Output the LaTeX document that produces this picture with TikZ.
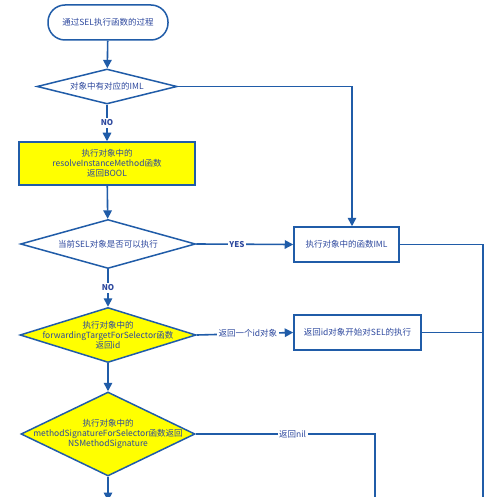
\documentclass[tikz,border=0pt]{standalone}
\usepackage{fontspec}
\setmainfont{Noto Sans CJK SC}
\usepackage{tikz}
\usetikzlibrary{arrows.meta,shapes.geometric}
\definecolor{flowline}{RGB}{32,92,168}
\definecolor{flowtext}{RGB}{45,72,158}
\definecolor{flowfill}{RGB}{255,255,0}

\begin{document}
\begin{tikzpicture}[x=1pt, y=-1pt, every node/.style={font=\fontsize{8.5}{10}\selectfont, text=flowtext, align=center}, conn/.style={draw=flowline, line width=1.6pt}, startbox/.style={draw=flowline, line width=1.5pt, rounded corners=17pt, minimum width=120pt, minimum height=35pt, inner sep=0pt}, procbox/.style={draw=flowline, line width=1.5pt, minimum height=35pt, inner sep=0pt}, yellowbox/.style={procbox, fill=flowfill}, dia/.style={diamond, draw=flowline, line width=1.5pt, inner sep=0pt}, yellowdia/.style={dia, fill=flowfill}, lbl/.style={fill=white, inner sep=1.5pt}, yn/.style={lbl, font=\fontsize{8}{10}\selectfont\bfseries}, >={Triangle[length=8.5pt,width=8.5pt]}]
\clip (0,0) rectangle (500,497);
\fill[white] (0,0) rectangle (500,497);
\node[startbox] (start) at (108,22.5) {通过SEL执行函数的过程};
\node[dia, minimum width=140pt, minimum height=35pt] (hasiml) at (107,86.5) {};
\node at (hasiml) {对象中有对应的IML};
\node[yellowbox, minimum width=176pt, minimum height=43pt] (resolve) at (107,163.5) {执行对象中的\\resolveInstanceMethod函数\\返回BOOL};
\node[dia, minimum width=175pt, minimum height=49pt] (canrun) at (108,244) {};
\node at (canrun) {当前SEL对象是否可以执行};
\node[yellowdia, minimum width=176pt, minimum height=55pt] (fwd) at (108,335) {};
\node at (fwd) {执行对象中的\\forwardingTargetForSelector函数\\返回id};
\node[yellowdia, minimum width=174pt, minimum height=84pt] (sig) at (108,434) {};
\node at (sig) {执行对象中的\\methodSignatureForSelector函数返回\\NSMethodSignature};
\node[procbox, minimum width=105pt] (runiml) at (346.5,244.5) {执行对象中的函数IML};
\node[procbox, minimum width=127pt] (runid) at (357.5,332.5) {返回id对象开始对SEL的执行};
\coordinate (sigout) at (108,501);
\coordinate (nilend) at (375,510);
\coordinate (rightend) at (483,510);
\coordinate (idjoin) at (483,332.5);
% main column
\foreach \a/\b in {start/hasiml,resolve/canrun,fwd/sig} \draw[conn,->] (\a)--(\b);
\draw[conn,->] (hasiml)--(resolve) node[yn,pos=0.5] {NO};
\draw[conn,->] (canrun)--(fwd) node[yn,pos=0.5] {NO};
\draw[conn,->] (sig)--(sigout);
% branches to the right
\draw[conn,->] (hasiml.east) -| ([xshift=5.5pt]runiml.north);
\draw[conn,->] (canrun.east)--(runiml.west) node[yn,pos=0.42] {YES};
\draw[conn,->] (fwd.east)--(runid.west) node[lbl,pos=0.53] {返回一个id对象};
\draw[conn] (sig.east) -| (nilend) node[lbl,pos=0.27] {返回nil};
\draw[conn] (runiml.east) -| (rightend);
\draw[conn] (runid.east)--(idjoin);
\end{tikzpicture}
\end{document}
